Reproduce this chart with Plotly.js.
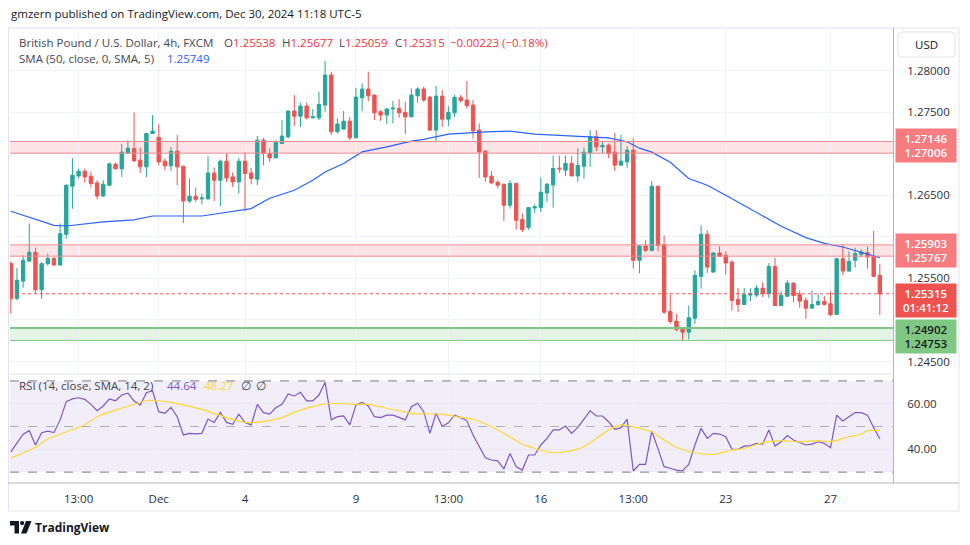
<!DOCTYPE html>
<html><head><meta charset="utf-8">
<script src="https://cdn.plot.ly/plotly-3.0.1.min.js"></script>
<style>html,body{margin:0;padding:0;background:#fff;}#chart{width:970px;height:545px;}</style>
</head><body><div id="chart"></div>
<script>
// ---- DATA ----
const openP = [1.25680,1.25259,1.25467,1.25708,1.25813,1.25364,1.25677,1.25741,1.25660,1.26030,
1.26608,1.26732,1.26789,1.26729,1.26648,1.26491,1.26620,1.26873,1.26817,1.27006,
1.27062,1.26921,1.26841,1.27243,1.27195,1.26909,1.26853,1.27030,1.26849,1.26431,
1.26488,1.26455,1.26455,1.26768,1.26680,1.26909,1.26720,1.26660,1.26909,1.26768,
1.26692,1.27162,1.27002,1.26949,1.27123,1.27202,1.27512,1.27451,1.27572,1.27431,
1.27431,1.27584,1.27945,1.27262,1.27295,1.27391,1.27190,1.27672,1.27777,1.27704,
1.27503,1.27464,1.27539,1.27544,1.27496,1.27443,1.27696,1.27777,1.27680,1.27283,
1.27692,1.27415,1.27491,1.27677,1.27644,1.27584,1.27283,1.27030,1.26729,1.26656,
1.26632,1.26379,1.26641,1.26207,1.26111,1.26347,1.26351,1.26527,1.26624,1.26825,
1.26801,1.26882,1.26732,1.26849,1.27009,1.27202,1.27082,1.27102,1.27018,1.26861,
1.26901,1.27042,1.25717,1.25889,1.25837,1.26608,1.25906,1.25102,1.24986,1.24894,
1.24853,1.25021,1.25524,1.26030,1.25576,1.25805,1.25777,1.25696,1.25247,1.25186,
1.25299,1.25299,1.25383,1.25315,1.25644,1.25174,1.25286,1.25443,1.25307,1.25235,
1.25142,1.25183,1.25223,1.25195,1.25066,1.25737,1.25588,1.25717,1.25789,1.25809,
1.25765,1.25538];
const highP = [1.25705,1.25624,1.25777,1.26162,1.25870,1.25696,1.25797,1.25756,1.26159,1.26632,
1.26945,1.26821,1.26821,1.26785,1.26680,1.26680,1.26894,1.26894,1.27114,1.27162,
1.27496,1.27074,1.27250,1.27464,1.27355,1.26942,1.27082,1.27223,1.26855,1.26701,
1.26592,1.26520,1.26970,1.26833,1.26930,1.27002,1.26773,1.26949,1.27014,1.26829,
1.27214,1.27190,1.27062,1.27162,1.27403,1.27518,1.27704,1.27612,1.27612,1.27536,
1.27744,1.28114,1.27985,1.27424,1.27512,1.27443,1.27792,1.27845,1.27985,1.27710,
1.27524,1.27551,1.27632,1.27656,1.27624,1.27785,1.27797,1.27804,1.27692,1.27813,
1.27765,1.27572,1.27708,1.27704,1.27873,1.27644,1.27364,1.27042,1.26789,1.26680,
1.26638,1.26680,1.26650,1.26279,1.26355,1.26391,1.26713,1.26648,1.26978,1.26978,
1.26978,1.26970,1.27062,1.27074,1.27283,1.27283,1.27142,1.27123,1.27250,1.27226,
1.27090,1.27183,1.25897,1.25958,1.26672,1.26614,1.26018,1.25307,1.25074,1.24900,
1.25174,1.25596,1.26138,1.26078,1.25817,1.25885,1.25825,1.25717,1.25383,1.25383,
1.25383,1.25415,1.25452,1.25684,1.25744,1.25343,1.25476,1.25452,1.25355,1.25274,
1.25355,1.25315,1.25286,1.25343,1.25743,1.25918,1.25825,1.25870,1.25849,1.25885,
1.26070,1.25677];
const lowP = [1.25078,1.25235,1.25388,1.25700,1.25315,1.25255,1.25656,1.25655,1.25655,1.25976,
1.26337,1.26701,1.26653,1.26592,1.26451,1.26479,1.26608,1.26812,1.26720,1.27000,
1.26901,1.26768,1.26720,1.27237,1.26861,1.26801,1.26792,1.26620,1.26166,1.26407,
1.26419,1.26391,1.26450,1.26431,1.26367,1.26660,1.26600,1.26520,1.26307,1.26629,
1.26620,1.26861,1.26901,1.26945,1.27118,1.27183,1.27331,1.27322,1.27412,1.27424,
1.27403,1.27503,1.27223,1.27243,1.27290,1.27162,1.27185,1.27512,1.27632,1.27403,
1.27395,1.27355,1.27364,1.27431,1.27235,1.27438,1.27612,1.27624,1.27271,1.27135,
1.27322,1.27331,1.27443,1.27612,1.27544,1.27183,1.26708,1.26660,1.26632,1.26580,
1.26190,1.26339,1.26086,1.26058,1.26086,1.26286,1.26298,1.26419,1.26351,1.26768,
1.26732,1.26727,1.26660,1.26701,1.26841,1.27030,1.27002,1.26945,1.26792,1.26855,
1.26829,1.25617,1.25564,1.25817,1.25825,1.25825,1.25074,1.24954,1.24865,1.24744,
1.24765,1.24954,1.25376,1.25564,1.25570,1.25756,1.25548,1.25114,1.25094,1.25180,
1.25226,1.25274,1.25274,1.25262,1.25168,1.25168,1.25280,1.25214,1.25147,1.25014,
1.25136,1.25178,1.25174,1.25045,1.25060,1.25536,1.25582,1.25629,1.25756,1.25617,
1.25518,1.25059];
const closeP = [1.25255,1.25476,1.25717,1.25813,1.25364,1.25677,1.25741,1.25660,1.26038,1.26620,
1.26741,1.26789,1.26720,1.26641,1.26491,1.26632,1.26877,1.26817,1.27018,1.27066,
1.26913,1.26841,1.27243,1.27271,1.26901,1.26853,1.27030,1.26841,1.26431,1.26488,
1.26451,1.26467,1.26768,1.26680,1.26909,1.26708,1.26660,1.26909,1.26761,1.26701,
1.27162,1.27002,1.26949,1.27135,1.27211,1.27512,1.27451,1.27572,1.27431,1.27443,
1.27592,1.27945,1.27262,1.27355,1.27391,1.27190,1.27680,1.27777,1.27696,1.27491,
1.27464,1.27536,1.27548,1.27491,1.27443,1.27704,1.27777,1.27644,1.27283,1.27692,
1.27415,1.27496,1.27677,1.27636,1.27576,1.27274,1.27021,1.26720,1.26648,1.26620,
1.26379,1.26641,1.26198,1.26086,1.26351,1.26359,1.26536,1.26632,1.26821,1.26817,
1.26882,1.26732,1.26858,1.27018,1.27202,1.27082,1.27098,1.27002,1.26861,1.26909,
1.27042,1.25717,1.25889,1.25837,1.26608,1.25897,1.25094,1.24982,1.24885,1.24853,
1.25026,1.25536,1.26030,1.25636,1.25805,1.25765,1.25684,1.25235,1.25186,1.25307,
1.25315,1.25383,1.25315,1.25644,1.25174,1.25295,1.25443,1.25295,1.25226,1.25142,
1.25186,1.25223,1.25186,1.25066,1.25737,1.25588,1.25705,1.25797,1.25817,1.25756,
1.25524,1.25315];
const barNo = openP.map((_, i) => i);

// SMA(50) line read at bar positions
const smaBar = [0,7,9,15,20,23,31,37,39,42,46,49,51,54,57,61,65,67,71,77,81,85,93,97,100,102,104,107,110,113,116,118,122,125,129,132,135,138,141];
const smaVal = [1.26307,1.26138,1.26130,1.26180,1.26204,1.26250,1.26250,1.26313,1.26339,1.26463,1.26560,1.26680,1.26780,1.26882,1.27021,1.27082,1.27150,1.27171,1.27235,1.27262,1.27271,1.27235,1.27211,1.27190,1.27142,1.27066,1.27018,1.26897,1.26701,1.26620,1.26500,1.26415,1.26247,1.26126,1.25990,1.25921,1.25877,1.25817,1.25749];

// RSI(14), one value per bar
const rsiVal = [38.9,42.9,46.6,48.2,41.9,47.3,48.0,47.3,52.9,60.9,
62.1,62.6,61.9,59.7,56.9,59.0,62.1,61.3,63.8,64.6,
61.2,59.4,64.8,65.7,56.5,55.8,58.4,54.3,46.3,47.0,
46.8,47.0,53.3,51.8,56.2,51.8,51.0,55.4,51.8,50.7,
59.7,56.1,55.4,58.2,59.7,64.3,63.4,65.0,61.2,61.2,
63.8,69.4,52.9,54.3,54.7,50.7,59.4,60.6,59.0,54.3,
53.9,55.0,55.0,54.0,52.9,58.7,60.2,56.5,47.0,55.8,
50.0,51.6,55.0,53.9,52.5,46.3,41.5,36.3,35.3,34.9,
31.4,38.2,32.4,30.9,37.5,37.5,41.9,44.8,48.5,48.5,
50.2,47.0,49.6,53.2,56.9,54.6,54.6,52.1,48.8,49.5,
53.2,30.5,33.4,33.4,48.0,40.3,32.4,31.7,30.9,30.6,
33.4,41.9,49.2,44.8,47.0,46.7,45.5,40.1,40.0,41.4,
41.6,42.6,42.3,48.5,41.4,43.3,46.0,44.1,42.9,41.9,
42.3,43.3,42.6,40.7,55.0,52.4,54.3,56.1,56.1,55.0,
49.5,44.64];
// RSI-based SMA (yellow)
const rsiMaBar = [0,4,6,9,12,14,17,20,22,24,26,31,35,38,40,44,47,50,52,56,58,61,63,65,67,70,73,75,78,81,83,86,88,91,93,95,97,99,102,104,106,108,111,114,117,119,122,125,128,131,133,136,138,139,141];
const rsiMaVal = [36.1,40.9,44.5,47.7,50.7,54.3,57.2,59.7,61.3,61.3,60.6,57.5,53.9,51.8,51.8,53.9,57.2,59.4,60.2,59.7,59.7,58.0,56.9,55.8,55.5,55.4,54.0,53.2,49.9,45.5,42.3,39.7,38.5,39.4,41.1,44.8,48.5,50.7,49.2,47.7,44.1,40.9,38.5,37.8,39.7,40.4,42.9,43.8,43.3,43.8,43.3,45.5,46.7,48.2,48.27];

// axis ticks (labels hidden behind the price-scale boxes are left blank)
const xTickBars = [11,24,38,56,71,86,101,116,133];
const xTickText = ['13:00','Dec','4','9','13:00','16','13:00','23','27'];
const priceTicks = [1.245,1.25,1.255,1.26,1.265,1.27,1.275,1.28];
const priceTickText = ['1.24500','','1.25500','','1.26500','','1.27500','1.28000'];
const rsiTicks = [40,60];

// horizontal zones
const zoneHigh = [1.27006,1.27146];
const zoneMid = [1.25767,1.25903];
const zoneLow = [1.24753,1.24902];
const lastPrice = 1.25315;
const lastCountdown = '01:41:12';
const smaLast = 1.25749;
const rsiLast = 44.64, rsiMaLast = 48.27;

// ---- LAYOUT ----
const L = 10, R = 893, T = 28, B = 482;
const px = x => (x - L) / (R - L);
const py = y => (B - y) / (B - T);
const split = py(374);
const FONT = 'Open Sans, Noto Sans, sans-serif';
const TXT = '#131722';
const RED = '#ef5350', TEAL = '#26a69a';
const fmt5 = v => v.toFixed(5);

const traces = [
  {type:'candlestick', x: barNo, open: openP, high: highP, low: lowP, close: closeP,
   xaxis:'x', yaxis:'y', hoverinfo:'skip', whiskerwidth:0,
   increasing:{line:{color:TEAL, width:1}, fillcolor:TEAL},
   decreasing:{line:{color:RED, width:1}, fillcolor:RED}},
  {type:'scatter', mode:'lines', x: smaBar, y: smaVal, xaxis:'x', yaxis:'y',
   line:{color:'#2962ff', width:1.2}, hoverinfo:'skip'},
  {type:'scatter', mode:'lines', x: barNo, y: rsiVal, xaxis:'x', yaxis:'y2',
   line:{color:'#7e57c2', width:1.2}, hoverinfo:'skip'},
  {type:'scatter', mode:'lines', x: rsiMaBar, y: rsiMaVal, xaxis:'x', yaxis:'y2',
   line:{color:'#fdd835', width:1.2, shape:'spline', smoothing:0.6}, hoverinfo:'skip'}
];

const shapes = [];
const band = (pair, fill, line) => {
  shapes.push({type:'rect', xref:'x domain', yref:'y', x0:0, x1:1, y0:pair[0], y1:pair[1],
    fillcolor:fill, line:{width:0}, layer:'below'});
  shapes.push({type:'line', xref:'x domain', yref:'y', x0:0, x1:1, y0:pair[0], y1:pair[0], line:{color:line, width:1}});
  shapes.push({type:'line', xref:'x domain', yref:'y', x0:0, x1:1, y0:pair[1], y1:pair[1], line:{color:line, width:1}});
};
band(zoneHigh, 'rgba(242,54,69,0.13)', '#f28b8f');
band(zoneMid, 'rgba(242,54,69,0.13)', '#f28b8f');
band(zoneLow, 'rgba(76,175,80,0.15)', '#81c784');
shapes.push({type:'line', xref:'x domain', yref:'y', x0:0, x1:1, y0:zoneLow[1], y1:zoneLow[1], line:{color:'#81c784', width:2}});
shapes.push({type:'line', xref:'x domain', yref:'y', x0:0, x1:1, y0:lastPrice, y1:lastPrice, line:{color:RED, width:1, dash:'dot'}});
// RSI background and levels
shapes.push({type:'rect', xref:'x domain', yref:'y2', x0:0, x1:1, y0:30, y1:70, fillcolor:'rgba(126,87,194,0.1)', line:{width:0}, layer:'below'});
shapes.push({type:'line', xref:'x domain', yref:'y2', x0:0, x1:1, y0:70, y1:70, line:{color:'#787b86', width:1, dash:'dash'}});
shapes.push({type:'line', xref:'x domain', yref:'y2', x0:0, x1:1, y0:30, y1:30, line:{color:'#787b86', width:1, dash:'dash'}});
shapes.push({type:'line', xref:'x domain', yref:'y2', x0:0, x1:1, y0:50, y1:50, line:{color:'rgba(120,123,134,0.55)', width:1, dash:'dash'}});
// frame lines (pixel positions)
const pline = (x0,y0,x1,y1,color,w) => shapes.push({type:'line', xref:'paper', yref:'paper',
  x0:px(x0), x1:px(x1), y0:py(y0), y1:py(y1), line:{color:color, width:w||1}});
pline(8,28,959,28,'#e0e3eb');
pline(8.5,28,8.5,511,'#e0e3eb');
pline(959,28,959,511,'#e0e3eb');
pline(8,511,959,511,'#e0e3eb');
pline(8,374,893,374,'#e0e3eb');
pline(893.5,28,893.5,483,'#b2b5be');
pline(8,483,959,483,'#b2b5be');
// USD box
const rr = (x0,y0,x1,y1,r) => `M${px(x0+r)},${py(y0)} L${px(x1-r)},${py(y0)} Q${px(x1)},${py(y0)} ${px(x1)},${py(y0+r)} L${px(x1)},${py(y1-r)} Q${px(x1)},${py(y1)} ${px(x1-r)},${py(y1)} L${px(x0+r)},${py(y1)} Q${px(x0)},${py(y1)} ${px(x0)},${py(y1-r)} L${px(x0)},${py(y0+r)} Q${px(x0)},${py(y0)} ${px(x0+r)},${py(y0)} Z`;
shapes.push({type:'path', xref:'paper', yref:'paper', path: rr(898,32,955,57,4), line:{color:'#e0e3eb', width:1}, fillcolor:'#ffffff'});
// TradingView logo mark
const pp = pts => 'M' + pts.map(p => px(p[0]) + ',' + py(p[1])).join(' L') + ' Z';
shapes.push({type:'path', xref:'paper', yref:'paper', path: pp([[10,521],[19,521],[19,533.5],[14.5,533.5],[14.5,525.5],[10,525.5]]), fillcolor:TXT, line:{width:0}});
shapes.push({type:'circle', xref:'paper', yref:'paper', x0:px(20), x1:px(24.2), y0:py(521), y1:py(525.2), fillcolor:TXT, line:{width:0}});
shapes.push({type:'path', xref:'paper', yref:'paper', path: pp([[26,521],[31.5,521],[26.5,533.5],[21,533.5]]), fillcolor:TXT, line:{width:0}});

const ann = [];
const txt = (x, y, text, opts) => ann.push(Object.assign({xref:'paper', yref:'paper', x:px(x), y:py(y),
  text:text, showarrow:false, xanchor:'left', yanchor:'middle',
  font:{family:FONT, size:11, color:TXT}}, opts || {}));
txt(9, 14, 'gmzern published on TradingView.com, Dec 30, 2024 11:18 UTC-5', {font:{family:FONT, size:11.5, color:TXT}});
const hdrColor = '#f23645';
txt(17, 42, 'British Pound / U.S. Dollar, 4h, FXCM', {font:{family:FONT, size:11.5, color:'#434651'}});
txt(222, 42, `O<span style="color:${hdrColor}">${fmt5(openP[141])}</span>`, {font:{family:FONT, size:11.5, color:'#434651'}});
txt(280, 42, `H<span style="color:${hdrColor}">${fmt5(highP[141])}</span>`, {font:{family:FONT, size:11.5, color:'#434651'}});
txt(337, 42, `L<span style="color:${hdrColor}">${fmt5(lowP[141])}</span>`, {font:{family:FONT, size:11.5, color:'#434651'}});
txt(393, 42, `C<span style="color:${hdrColor}">${fmt5(closeP[141])}</span>`, {font:{family:FONT, size:11.5, color:'#434651'}});
txt(448, 42, '\u22120.00223 (\u22120.18%)', {font:{family:FONT, size:11.5, color:hdrColor}});
txt(17, 59, 'SMA (50, close, 0, SMA, 5)', {font:{family:FONT, size:11.5, color:'#434651'}});
txt(165, 59, fmt5(smaLast), {font:{family:FONT, size:11.5, color:'#2962ff'}});
txt(17, 385, 'RSI (14, close, SMA, 14, 2)', {font:{family:FONT, size:11.5, color:'#434651'}});
txt(165, 385, rsiLast.toFixed(2), {font:{family:FONT, size:11.5, color:'#7e57c2'}});
txt(202, 385, rsiMaLast.toFixed(2), {font:{family:FONT, size:11.5, color:'#fdd835'}});
txt(239, 385, '\u2205', {font:{family:FONT, size:11.5, color:'#434651'}});
txt(254, 385, '\u2205', {font:{family:FONT, size:11.5, color:'#434651'}});
txt(926.5, 44.5, 'USD', {xanchor:'center', font:{family:FONT, size:11.5, color:TXT}});
txt(33, 527.5, '<b>TradingView</b>', {font:{family:FONT, size:12, color:TXT}});

// price-scale boxes
const box = (yval, text, bg, color, shift) => ann.push({xref:'paper', yref:'y', x:px(925.5), y:yval, yshift:shift||0,
  text:text, showarrow:false, xanchor:'center', yanchor:'middle', bgcolor:bg, borderpad:2, width:56, height:29,
  font:{family:FONT, size:11.5, color:color, weight:600}});
box((zoneHigh[0]+zoneHigh[1])/2, fmt5(zoneHigh[1]) + '<br>' + fmt5(zoneHigh[0]), '#f77c80', '#ffffff', 2);
box((zoneMid[0]+zoneMid[1])/2, fmt5(zoneMid[1]) + '<br>' + fmt5(zoneMid[0]), '#f77c80', '#ffffff', 0);
box(lastPrice, fmt5(lastPrice) + '<br>' + lastCountdown, RED, '#ffffff', -7);
box((zoneLow[0]+zoneLow[1])/2, fmt5(zoneLow[1]) + '<br>' + fmt5(zoneLow[0]), '#81c784', TXT, -2);

const layout = {
  width:970, height:545, margin:{l:L, r:970-R, t:T, b:545-B}, paper_bgcolor:'#ffffff', plot_bgcolor:'#ffffff',
  showlegend:false, dragmode:false, boxgap:0.22,
  font:{family:FONT, size:11, color:TXT},
  xaxis:{domain:[0,1], anchor:'y2', range:[-0.13, 143.14], tickmode:'array', tickvals:xTickBars, ticktext:xTickText,
    showgrid:true, gridcolor:'#f0f3fa', gridwidth:1, zeroline:false, showline:false, ticks:'outside', ticklen:6, tickcolor:'rgba(0,0,0,0)',
    tickfont:{family:FONT, size:11.5, color:'#2a2e39'}, rangeslider:{visible:false}, fixedrange:true},
  yaxis:{domain:[split,1], anchor:'x', side:'right', range:[1.24350, 1.28511], tickmode:'array', tickvals:priceTicks,
    ticktext:priceTickText, showgrid:true, gridcolor:'#f0f3fa', zeroline:false, showline:false,
    ticks:'outside', ticklen:11, tickcolor:'rgba(0,0,0,0)', tickfont:{family:FONT, size:11.5, color:'#2a2e39'}, fixedrange:true},
  yaxis2:{domain:[0,split], anchor:'x', side:'right', range:[25.66, 73.03], tickmode:'array', tickvals:rsiTicks,
    ticktext:rsiTicks.map(v => v.toFixed(2)), showgrid:true, gridcolor:'#ebe8f4', zeroline:false, showline:false,
    ticks:'outside', ticklen:11, tickcolor:'rgba(0,0,0,0)', tickfont:{family:FONT, size:11.5, color:'#2a2e39'}, fixedrange:true},
  shapes:shapes, annotations:ann
};
Plotly.newPlot('chart', traces, layout, {staticPlot:true, displayModeBar:false});
</script></body></html>
